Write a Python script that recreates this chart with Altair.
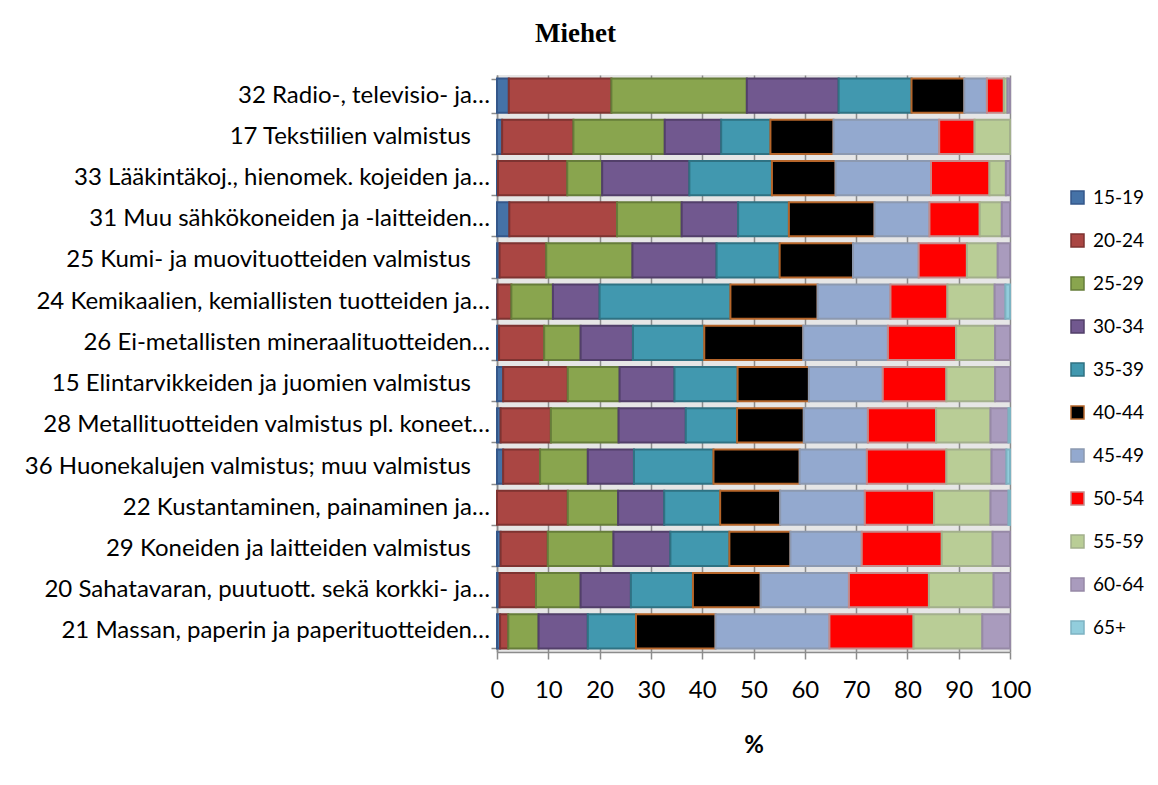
import altair as alt
import pandas as pd

industries = [
    "32 Radio-, televisio- ja…",
    "17 Tekstiilien valmistus",
    "33 Lääkintäkoj., hienomek. kojeiden ja…",
    "31 Muu sähkökoneiden ja -laitteiden…",
    "25 Kumi- ja muovituotteiden valmistus",
    "24 Kemikaalien, kemiallisten tuotteiden ja…",
    "26 Ei-metallisten mineraalituotteiden…",
    "15 Elintarvikkeiden ja juomien valmistus",
    "28 Metallituotteiden valmistus pl. koneet…",
    "36 Huonekalujen valmistus; muu valmistus",
    "22 Kustantaminen, painaminen ja…",
    "29 Koneiden ja laitteiden valmistus",
    "20 Sahatavaran, puutuott. sekä korkki- ja…",
    "21 Massan, paperin ja paperituotteiden…",
]

age_groups = ["15-19", "20-24", "25-29", "30-34", "35-39", "40-44",
              "45-49", "50-54", "55-59", "60-64", "65+"]

# share (%) of each age group, one value per industry (same order as above)
a15_19 = [2.3, 1.0, 0.2, 2.4, 0.5, 0.1, 0.4, 1.2, 0.7, 1.2, 0.0, 0.7, 0.5, 0.6]
a20_24 = [20.0, 13.9, 13.5, 21.0, 9.1, 2.7, 8.8, 12.6, 9.8, 7.2, 13.8, 9.2, 7.1, 1.6]
a25_29 = [26.4, 17.8, 6.8, 12.6, 16.8, 8.1, 7.1, 10.1, 13.2, 9.3, 9.8, 12.8, 8.7, 5.9]
a30_34 = [17.9, 11.0, 17.0, 11.0, 16.4, 9.1, 10.2, 10.7, 13.1, 9.0, 9.0, 11.1, 9.8, 9.6]
a35_39 = [14.2, 9.6, 16.1, 9.9, 12.3, 25.5, 13.9, 12.3, 10.0, 15.5, 10.9, 11.5, 12.1, 9.4]
a40_44 = [10.3, 12.3, 12.4, 16.7, 14.3, 17.0, 19.3, 13.9, 13.0, 16.8, 11.7, 11.9, 13.2, 15.5]
a45_49 = [4.4, 20.6, 18.6, 10.7, 12.8, 14.2, 16.5, 14.4, 12.5, 13.1, 16.5, 13.9, 17.2, 22.2]
a50_54 = [3.3, 6.9, 11.4, 9.8, 9.4, 11.1, 13.3, 12.4, 13.3, 15.5, 13.5, 15.6, 15.6, 16.4]
a55_59 = [0.7, 6.9, 3.2, 4.3, 6.0, 9.2, 7.6, 9.5, 10.6, 8.8, 11.0, 9.9, 12.6, 13.4]
a60_64 = [0.5, 0.0, 0.8, 1.6, 2.4, 2.1, 2.9, 2.9, 3.5, 2.9, 3.5, 3.4, 3.2, 5.4]
a65 = [0.0, 0.0, 0.0, 0.0, 0.0, 0.9, 0.0, 0.0, 0.3, 0.7, 0.3, 0.0, 0.0, 0.0]

series = [a15_19, a20_24, a25_29, a30_34, a35_39, a40_44,
          a45_49, a50_54, a55_59, a60_64, a65]

fill_colors = ["#4572A7", "#AA4643", "#89A54E", "#71588F", "#4198AF", "#000000",
               "#93A9CF", "#FF0000", "#B9CD96", "#A99BBD", "#92CDDC"]
stroke_colors = ["#34578A", "#7E3331", "#667D3A", "#523F6A", "#2F7283", "#B5652A",
                 "#8C99B0", "#C48A8A", "#A3B08C", "#9689A6", "#7DB3C2"]

rows = []
for gi, (g, vals) in enumerate(zip(age_groups, series)):
    for ind, v in zip(industries, vals):
        if v > 0:
            rows.append({"industry": ind, "age": g, "order": gi, "value": v})
df = pd.DataFrame(rows)

labels_df = pd.DataFrame({
    "industry": industries,
    "cut": [lab.endswith("…") for lab in industries],
})

FONT = "Lato"
GRID = "#8C8C8C"

y_enc = alt.Y("industry:N", sort=industries,
              scale=alt.Scale(paddingInner=0.17, paddingOuter=0.085),
              axis=alt.Axis(title=None, tickBand="extent", labels=False,
                            tickSize=6, tickColor=GRID, tickWidth=1.5,
                            domainColor=GRID, domainWidth=1.5, grid=False))

bars = alt.Chart(df).mark_bar(strokeWidth=2, strokeJoin="miter").encode(
    y=y_enc,
    x=alt.X("value:Q", stack="zero",
            scale=alt.Scale(domain=[0, 100], nice=False),
            axis=alt.Axis(title="%", values=list(range(0, 101, 10)),
                          labelFontSize=24, labelFont=FONT, labelColor="#000000",
                          labelPadding=19, tickSize=7, tickColor=GRID,
                          tickWidth=1.5, domainColor=GRID, domainWidth=1.5,
                          grid=True, gridColor=GRID, gridWidth=1.5,
                          titleFont=FONT, titleFontSize=24, titleFontWeight="bold",
                          titlePadding=31, titleColor="#000000", labelFlush=False)),
    fill=alt.Fill("age:N", scale=alt.Scale(domain=age_groups, range=fill_colors),
                  legend=alt.Legend(title=None)),
    stroke=alt.Stroke("age:N", scale=alt.Scale(domain=age_groups, range=stroke_colors),
                      legend=alt.Legend(title=None)),
    order=alt.Order("order:Q"),
)

label_style = dict(align="right", baseline="middle", font=FONT, fontSize=24,
                   color="#000000")

labels_cut = alt.Chart(labels_df).transform_filter("datum.cut").mark_text(
    **label_style).encode(
    y=alt.Y("industry:N", sort=industries),
    x=alt.value(-7),
    text="industry:N",
)
labels_full = alt.Chart(labels_df).transform_filter("!datum.cut").mark_text(
    **label_style).encode(
    y=alt.Y("industry:N", sort=industries),
    x=alt.value(-26),
    text="industry:N",
)

chart = alt.layer(bars, labels_cut, labels_full).properties(
    width=513,
    height=577,
    title=alt.TitleParams("Miehet", font="Liberation Serif", fontSize=27,
                          fontWeight="bold", color="#000000", anchor="middle",
                          dx=-178, offset=27),
    autosize=alt.AutoSizeParams(type="none"),
    padding={"left": 489, "top": 67, "right": 140, "bottom": 125},
).configure_view(
    fill="#E6E6E6", stroke=None
).configure_legend(
    orient="none", legendX=571, legendY=113, symbolType="square",
    symbolSize=169, symbolStrokeWidth=1.5, labelFont=FONT, labelFontSize=19,
    labelColor="#000000", rowPadding=23, padding=0, labelOffset=6,
    labelLimit=100
)

chart.save("out.html", embed_options={"renderer": "svg", "actions": False})
